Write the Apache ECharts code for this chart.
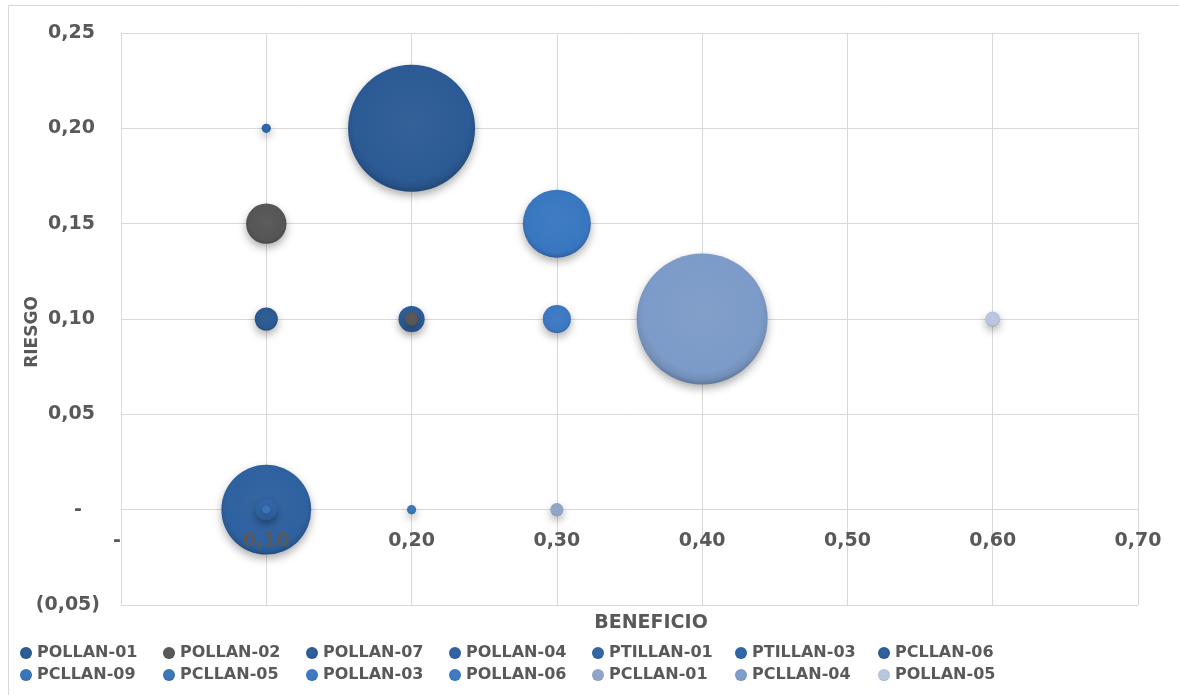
<!DOCTYPE html>
<html>
<head>
<meta charset="utf-8">
<title>Riesgo vs Beneficio</title>
<script src="https://cdn.jsdelivr.net/npm/echarts@6/dist/echarts.min.js"></script>
<style>
  html, body { margin: 0; padding: 0; background: #ffffff; }
  #chart { width: 1179px; height: 695px; }
</style>
</head>
<body>
<div id="chart"></div>
<script>
// Project names, one bubble series each
const seriesNames = [
  'POLLAN-01', 'POLLAN-02', 'POLLAN-07', 'POLLAN-04', 'PTILLAN-01', 'PTILLAN-03', 'PCLLAN-06',
  'PCLLAN-09', 'PCLLAN-05', 'POLLAN-03', 'POLLAN-06', 'PCLLAN-01', 'PCLLAN-04', 'POLLAN-05'
];
// Beneficio (x) per project point
const beneficio = [
  [0.10], [0.10, 0.20], [0.20], [0.10], [0.10], [0.10], [0.20],
  [0.10], [0.20], [0.30], [0.30], [0.30], [0.40], [0.60]
];
// Riesgo (y) per project point
const riesgo = [
  [0.10], [0.15, 0.10], [0.20], [0.00], [0.00], [0.20], [0.10],
  [0.00], [0.00], [0.15], [0.10], [0.00], [0.10], [0.10]
];
// Bubble size (area) per project point
const tamano = [
  [3.1], [9.5, 1.2], [94], [47], [2.9], [0.5], [4.0],
  [0.4], [0.5], [27], [4.6], [1.0], [100], [1.3]
];

// Series fill colours
const colores = [
  '#2A5890', '#555555', '#2C5A94', '#2E61A0', '#2F63A3', '#2B64A8', '#2B5C9A',
  '#3672B8', '#3A74B8', '#3877C0', '#3B78C2', '#8FA4C6', '#7D9BC8', '#B7C5DD'
];

const xTicks = { min: 0, max: 0.7, step: 0.1 };
const yTicks = { min: -0.05, max: 0.25, step: 0.05 };

const MAX_DIAMETER = 131;
const maxSize = Math.max(...tamano.flat());

function shade(hex, f) {
  const n = parseInt(hex.slice(1), 16);
  let r = (n >> 16) & 255, g = (n >> 8) & 255, b = n & 255;
  if (f >= 0) { r += (255 - r) * f; g += (255 - g) * f; b += (255 - b) * f; }
  else { r *= (1 + f); g *= (1 + f); b *= (1 + f); }
  return 'rgb(' + Math.round(r) + ',' + Math.round(g) + ',' + Math.round(b) + ')';
}

function sphere(hex) {
  return {
    type: 'radial', x: 0.5, y: 0.45, r: 0.58,
    colorStops: [
      { offset: 0, color: shade(hex, 0.04) },
      { offset: 0.78, color: hex },
      { offset: 0.88, color: shade(hex, -0.08) },
      { offset: 1, color: shade(hex, -0.35) }
    ]
  };
}

// Accounting-style numbers: "-" for zero, parentheses for negatives,
// positives and the dash keep room for the closing parenthesis.
function fmt(v) {
  const r = Math.round(v * 100) / 100;
  if (Math.abs(r) < 1e-9) return '{z|-}';
  const s = Math.abs(r).toFixed(2).replace('.', ',');
  return r < 0 ? '{n|(' + s + ')}' : '{p|' + s + '}';
}

const FONT = 'DejaVu Sans';
const baseText = { fontFamily: FONT, fontWeight: 'bold', fontSize: 19, color: '#595959' };
const gridColor = '#D9D9D9';

function richFor(zeroPad, posPad) {
  return {
    p: Object.assign({ padding: [0, posPad, 0, 0] }, baseText),
    n: Object.assign({ padding: [0, 0, 0, 0] }, baseText),
    z: Object.assign({ padding: [0, zeroPad, 0, 0] }, baseText)
  };
}

const series = seriesNames.map((name, i) => {
  const pts = beneficio[i].map((x, j) => [x, riesgo[i][j], tamano[i][j]]);
  const minSize = Math.min(...tamano[i]);
  return {
    name: name,
    type: 'scatter',
    data: pts,
    // smaller bubbles stay on top of larger ones
    z: 2 + Math.round(100 - minSize),
    symbol: 'circle',
    symbolSize: d => MAX_DIAMETER * Math.sqrt(d[2] / maxSize),
    itemStyle: {
      color: sphere(colores[i]),
      opacity: 1,
      shadowBlur: 8,
      shadowOffsetY: 4,
      shadowColor: 'rgba(0,0,0,0.32)'
    },
    emphasis: { disabled: true }
  };
});

// Legend laid out as 7 columns of 2 rows
const COLS = 7;
const legends = [];
for (let c = 0; c < COLS; c++) {
  legends.push({
    left: 15 + c * 143, top: 640,
    orient: 'vertical',
    icon: 'circle',
    itemWidth: 12, itemHeight: 12, itemGap: 6,
    textStyle: { fontFamily: FONT, fontWeight: 'bold', fontSize: 16, color: '#595959' },
    data: [seriesNames[c], seriesNames[c + COLS]].filter(Boolean)
  });
}

const chart = echarts.init(document.getElementById('chart'), null, { renderer: 'canvas' });
chart.setOption({
  backgroundColor: '#ffffff',
  animation: false,
  grid: { left: 121, right: 41, top: 33, bottom: 90 },
  xAxis: [
    {
      // gridlines, behind the bubbles
      type: 'value',
      min: xTicks.min, max: xTicks.max, interval: xTicks.step,
      axisLine: { show: false, onZero: false },
      axisTick: { show: false },
      axisLabel: { show: false },
      splitLine: { show: true, lineStyle: { color: gridColor, width: 1 } }
    },
    {
      // tick labels, drawn over the bubbles along the zero line
      type: 'value',
      position: 'bottom',
      offset: 0,
      z: 150,
      min: xTicks.min, max: xTicks.max, interval: xTicks.step,
      axisLine: { show: false, onZero: false },
      axisTick: { show: false },
      splitLine: { show: false },
      axisLabel: Object.assign({
        margin: 22, formatter: fmt, showMinLabel: true, showMaxLabel: true, hideOverlap: false,
        rich: richFor(8, 0)
      }, baseText)
    }
  ],
  yAxis: {
    type: 'value',
    min: yTicks.min, max: yTicks.max, interval: yTicks.step,
    name: 'RIESGO',
    nameLocation: 'middle',
    nameGap: 80,
    nameMoveOverlap: false,
    nameTextStyle: { fontFamily: FONT, fontWeight: 'bold', fontSize: 17, color: '#595959', padding: [0, 26, 0, 0] },
    axisLine: { show: false },
    axisTick: { show: false },
    axisLabel: Object.assign({
      margin: 21, formatter: fmt, showMinLabel: true, showMaxLabel: true,
      rich: richFor(18, 5)
    }, baseText),
    splitLine: { show: true, lineStyle: { color: gridColor, width: 1 } }
  },
  legend: legends,
  graphic: [
    {
      type: 'rect', silent: true, z: -1,
      shape: { x: 8.5, y: 5.5, width: 1200, height: 720 },
      style: { fill: 'none', stroke: gridColor, lineWidth: 1 }
    },
    {
      type: 'text', silent: true,
      style: {
        x: 651, y: 623, text: 'BENEFICIO',
        align: 'center', verticalAlign: 'middle',
        fontFamily: FONT, fontWeight: 'bold', fontSize: 19, fill: '#595959'
      }
    }
  ],
  series: series
});

// The x tick labels sit where the y axis crosses zero: lift the label axis there.
const yAtZero = chart.convertToPixel({ yAxisIndex: 0 }, 0);
const yAtMin = chart.convertToPixel({ yAxisIndex: 0 }, yTicks.min);
chart.setOption({ xAxis: [{}, { offset: -(yAtMin - yAtZero) }] });
</script>
</body>
</html>
